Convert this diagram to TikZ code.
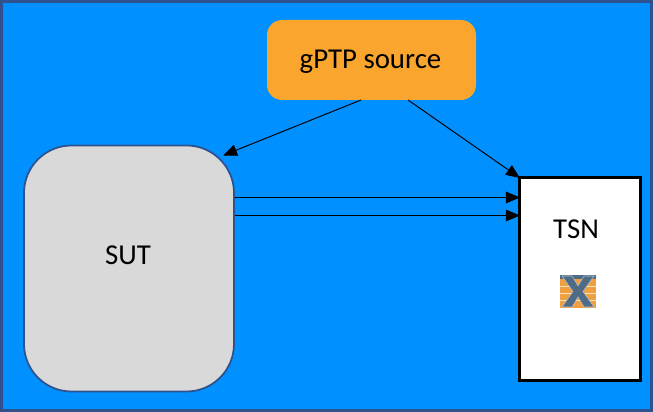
\documentclass[tikz,border=0pt]{standalone}
\usepackage{fontspec}
\setmainfont{Carlito}
\usepackage{tikz}
\usetikzlibrary{arrows.meta}
\definecolor{skyback}{HTML}{0090FF}
\definecolor{frameblue}{HTML}{2F528F}
\definecolor{boxgray}{HTML}{D9D9D9}
\definecolor{sourceorange}{HTML}{F9A52E}
\definecolor{iconorange}{HTML}{F0A040}
\definecolor{iconslate}{HTML}{4F6B86}
\tikzset{
  every node/.style={font=\fontsize{16.4pt}{19pt}\selectfont, text=black},
  link/.style={draw=black, line width=0.55pt, -{Triangle[length=8pt, width=6.6pt]}}
}
\begin{document}
\begin{tikzpicture}
  \useasboundingbox (0,0) rectangle (13.06,8.24);
  \draw[fill=skyback, draw=frameblue, line width=1.7pt] (0.03,0.03) rectangle (13.03,8.21);
  \node[draw=frameblue, fill=boxgray, line width=1pt, rounded corners=0.95cm, minimum width=4.2cm, minimum height=4.92cm, inner sep=0pt] (sut) at (2.58,2.87) {};
  \node[inner sep=0pt] (sutlabel) at (2.56,3.14) {SUT};
  \node[fill=sourceorange, rounded corners=0.3cm, minimum width=4.18cm, minimum height=1.6cm, inner sep=0pt] (gptp) at (7.43,7.04) {};
  \node[inner sep=0pt] (gptplabel) at (7.41,7.0) {gPTP source};
  \node[draw=black, fill=white, line width=1.2pt, minimum width=2.42cm, minimum height=4.06cm, inner sep=0pt] (tsn) at (11.6,2.66) {};
  \node[inner sep=0pt] (tsnlabel) at (11.52,3.65) {TSN};
  \coordinate (gptpl) at (7.22,6.24);
  \coordinate (gptpr) at (8.16,6.24);
  \coordinate (sutc) at (4.46,5.13);
  \coordinate (tsnc) at (10.4,4.68);
  \coordinate (tsna) at (10.4,4.29);
  \coordinate (tsnb) at (10.4,3.93);
  \draw[link] (gptpl) -- (sutc);
  \draw[link] (gptpr) -- (tsnc);
  \draw[link] (sut.east |- tsna) -- (tsna);
  \draw[link] (sut.east |- tsnb) -- (tsnb);
  % icon
  \fill[iconorange] (11.19,2.08) rectangle (11.92,2.74);
  \foreach \y in {2.24,2.38,2.52}
    \draw[white!70!iconorange, line width=0.5pt] (11.19,\y) -- (11.92,\y);
  \fill[iconslate] (11.19,2.66) rectangle (11.92,2.74);
  \fill[iconslate, draw=white!60!iconslate, line width=0.3pt] (11.24,2.72) -- (11.44,2.72) -- (11.56,2.52) -- (11.68,2.72) -- (11.88,2.72) -- (11.66,2.41) -- (11.88,2.1) -- (11.68,2.1) -- (11.56,2.3) -- (11.44,2.1) -- (11.24,2.1) -- (11.46,2.41) -- cycle;
\end{tikzpicture}
\end{document}
